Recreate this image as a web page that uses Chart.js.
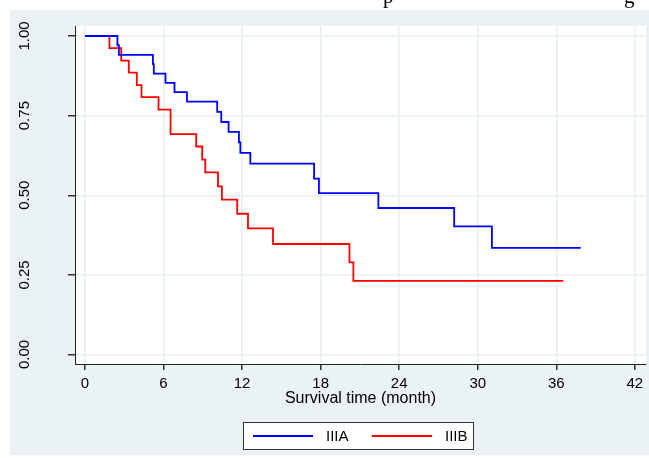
<!DOCTYPE html>
<html>
<head>
<meta charset="utf-8">
<title>Survival by stage</title>
<script src="https://cdn.jsdelivr.net/npm/chart.js@4.4.1/dist/chart.umd.min.js"></script>
<style>
    html, body { margin: 0; padding: 0; background: #fff; }
    #wrap { width: 649px; height: 458px; position: relative; }
</style>
</head>
<body>
<div id="wrap"><canvas id="km-chart"></canvas></div>
<script>
// -- Data --
const groupLabels = ['IIIA', 'IIIB'];

// IIIA: time of each step (months) and survival after the step
const iiiaTime = [0, 2.48, 2.59, 5.19, 5.26, 6.15, 6.84, 7.79, 10.10, 10.41, 10.97, 11.76, 11.87, 12.63, 17.50, 17.87, 22.41, 28.20, 31.08, 37.86];
const iiiaSurv = [1, 0.971, 0.941, 0.912, 0.882, 0.853, 0.824, 0.794, 0.762, 0.730, 0.699, 0.666, 0.633, 0.599, 0.552, 0.507, 0.460, 0.402, 0.335, 0.335];

// IIIB
const iiibTime = [0, 1.87, 2.77, 3.35, 3.96, 4.32, 5.62, 6.54, 8.50, 8.96, 9.19, 10.16, 10.46, 11.63, 12.45, 14.36, 20.20, 20.50, 36.53];
const iiibSurv = [1, 0.962, 0.923, 0.885, 0.846, 0.808, 0.769, 0.692, 0.653, 0.612, 0.572, 0.528, 0.486, 0.442, 0.396, 0.347, 0.289, 0.231, 0.231];

const xTickValues = [0, 6, 12, 18, 24, 30, 36, 42];
const yTickValues = [0, 0.25, 0.5, 0.75, 1];
const xAxisTitle = 'Survival time (month)';

const FONT = '"Liberation Sans", Arial, Helvetica, sans-serif';

// Zip a time array and a survival array into {x, y} points
function toPoints(times, surv) {
    return times.map((t, i) => ({ x: t, y: surv[i] }));
}

// -- Plugins --
// Stata style background: light panel behind a white plot region
const panelPlugin = {
    id: 'panel',
    beforeDraw(chart) {
        const { ctx, chartArea: a } = chart;
        ctx.save();
        ctx.fillStyle = '#ffffff';
        ctx.fillRect(0, 0, chart.width, chart.height);
        ctx.fillStyle = '#eaf2f3';
        ctx.fillRect(10, 10, chart.width - 10, 445);
        ctx.fillStyle = '#ffffff';
        ctx.fillRect(a.left, a.top, a.right - a.left, a.bottom - a.top);
        // bits of the (cropped) caption line above the figure
        ctx.fillStyle = '#000';
        ctx.font = '21px "Liberation Serif", "Times New Roman", serif';
        ctx.textBaseline = 'alphabetic';
        ctx.fillText('p', 383, 2.5);
        ctx.fillText('g', 624, 2.5);
        ctx.restore();
    }
};

// Boxed legend under the axis title
const boxLegendPlugin = {
    id: 'boxLegend',
    afterDraw(chart) {
        const ctx = chart.ctx;
        const boxX = 243.5, boxY = 422.5, boxW = 230, boxH = 27;
        ctx.save();
        ctx.fillStyle = '#ffffff';
        ctx.fillRect(boxX, boxY, boxW, boxH);
        ctx.strokeStyle = '#333';
        ctx.lineWidth = 1;
        ctx.strokeRect(boxX, boxY, boxW, boxH);
        const midY = boxY + boxH / 2;
        chart.data.datasets.forEach((ds, i) => {
            const x0 = boxX + 9.5 + i * 119;
            ctx.strokeStyle = ds.borderColor;
            ctx.lineWidth = 1.8;
            ctx.beginPath();
            ctx.moveTo(x0, midY);
            ctx.lineTo(x0 + 60, midY);
            ctx.stroke();
            ctx.fillStyle = '#000';
            ctx.font = '15px ' + FONT;
            ctx.textBaseline = 'middle';
            ctx.fillText(ds.label, x0 + 73, midY + 0.5);
        });
        ctx.restore();
    }
};

// -- Chart --
function createKmChart(canvasId) {
    const ctx = document.getElementById(canvasId).getContext('2d');
    new Chart(ctx, {
        type: 'line',
        data: {
            datasets: [
                {
                    label: groupLabels[0],
                    data: toPoints(iiiaTime, iiiaSurv),
                    borderColor: '#0000ff',
                    backgroundColor: '#0000ff',
                    borderWidth: 1.8,
                    stepped: true,
                    pointRadius: 0,
                    fill: false
                },
                {
                    label: groupLabels[1],
                    data: toPoints(iiibTime, iiibSurv),
                    borderColor: '#ff0000',
                    backgroundColor: '#ff0000',
                    borderWidth: 1.8,
                    stepped: true,
                    pointRadius: 0,
                    fill: false
                }
            ]
        },
        options: {
            responsive: true,
            maintainAspectRatio: false,
            animation: false,
            layout: {
                padding: { left: 10, top: 26, right: 3, bottom: 50 }
            },
            scales: {
                x: {
                    type: 'linear',
                    min: -0.76,
                    max: 42.85,
                    afterBuildTicks: (scale) => {
                        scale.ticks = xTickValues.map(v => ({ value: v }));
                    },
                    afterFit: (scale) => { scale.height = 44; },
                    grid: {
                        color: '#e6eef0',
                        lineWidth: 1.5,
                        tickColor: '#333',
                        tickLength: 6
                    },
                    border: { color: '#222', width: 1 },
                    ticks: {
                        color: '#000',
                        padding: 5,
                        maxRotation: 0,
                        autoSkip: false,
                        font: { family: FONT, size: 15 }
                    },
                    title: {
                        display: true,
                        text: xAxisTitle,
                        color: '#000',
                        padding: 0,
                        font: { family: FONT, size: 16 }
                    }
                },
                y: {
                    type: 'linear',
                    min: -0.0298,
                    max: 1.0314,
                    afterBuildTicks: (scale) => {
                        scale.ticks = yTickValues.map(v => ({ value: v }));
                    },
                    afterFit: (scale) => {
                        scale.width = 65;
                        // the big label padding must not push the plot area down
                        scale.paddingTop = 0;
                        scale.paddingBottom = 0;
                    },
                    grid: {
                        color: '#e6eef0',
                        lineWidth: 1.5,
                        tickColor: '#333',
                        tickLength: 7
                    },
                    border: { color: '#222', width: 1 },
                    ticks: {
                        color: '#000',
                        minRotation: 90,
                        maxRotation: 90,
                        crossAlign: 'center',
                        padding: 29,
                        font: { family: FONT, size: 15 },
                        callback: (v) => Number(v).toFixed(2)
                    }
                }
            },
            plugins: {
                legend: { display: false },
                tooltip: { enabled: false }
            }
        },
        plugins: [panelPlugin, boxLegendPlugin]
    });
}

createKmChart('km-chart');
</script>
</body>
</html>
